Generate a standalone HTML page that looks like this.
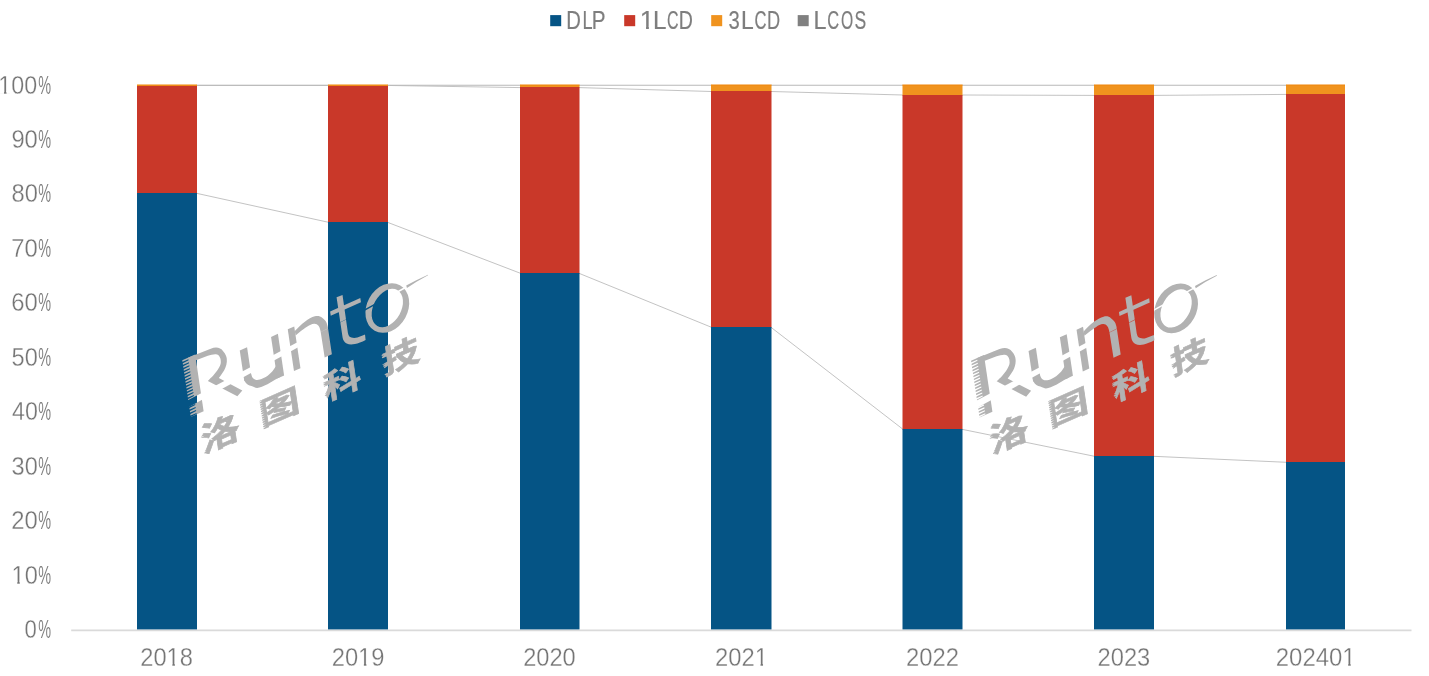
<!DOCTYPE html>
<html><head><meta charset="utf-8"><title>Chart</title>
<style>html,body{margin:0;padding:0;background:#fff}body{width:1429px;height:676px;overflow:hidden;font-family:"Liberation Sans",sans-serif}svg{display:block;will-change:transform}</style>
</head><body>
<svg width="1429" height="676" viewBox="0 0 1429 676" font-family="'Liberation Sans', sans-serif">
<rect width="1429" height="676" fill="#fff"/>
<line x1="71.2" y1="630.35" x2="1411.5" y2="630.35" stroke="#dadada" stroke-width="1.7"/>
<line x1="196.5" y1="193.3" x2="328.5" y2="222.3" stroke="#bcbcbc" stroke-width="0.9"/>
<line x1="387.5" y1="222.3" x2="520.5" y2="273.3" stroke="#bcbcbc" stroke-width="0.9"/>
<line x1="579.0" y1="273.3" x2="711.5" y2="327.3" stroke="#bcbcbc" stroke-width="0.9"/>
<line x1="771.0" y1="327.3" x2="903.0" y2="429.3" stroke="#bcbcbc" stroke-width="0.9"/>
<line x1="962.0" y1="429.3" x2="1094.5" y2="456.3" stroke="#bcbcbc" stroke-width="0.9"/>
<line x1="1153.5" y1="456.3" x2="1286.5" y2="462.3" stroke="#bcbcbc" stroke-width="0.9"/>
<line x1="196.5" y1="85.45" x2="328.5" y2="85.45" stroke="#bcbcbc" stroke-width="0.9"/>
<line x1="387.5" y1="85.45" x2="520.5" y2="87.6" stroke="#bcbcbc" stroke-width="0.9"/>
<line x1="579.0" y1="87.6" x2="711.5" y2="91.5" stroke="#bcbcbc" stroke-width="0.9"/>
<line x1="771.0" y1="91.5" x2="903.0" y2="95.0" stroke="#bcbcbc" stroke-width="0.9"/>
<line x1="962.0" y1="95.0" x2="1094.5" y2="95.4" stroke="#bcbcbc" stroke-width="0.9"/>
<line x1="1153.5" y1="95.4" x2="1286.5" y2="94.4" stroke="#bcbcbc" stroke-width="0.9"/>
<line x1="196.5" y1="85.25" x2="328.5" y2="85.25" stroke="#b9b9b9" stroke-width="1.05"/>
<line x1="387.5" y1="85.25" x2="520.5" y2="85.25" stroke="#b9b9b9" stroke-width="1.05"/>
<line x1="579.0" y1="85.25" x2="711.5" y2="85.25" stroke="#b9b9b9" stroke-width="1.05"/>
<line x1="771.0" y1="85.25" x2="903.0" y2="85.25" stroke="#b9b9b9" stroke-width="1.05"/>
<line x1="962.0" y1="85.25" x2="1094.5" y2="85.25" stroke="#b9b9b9" stroke-width="1.05"/>
<line x1="1153.5" y1="85.25" x2="1286.5" y2="85.25" stroke="#b9b9b9" stroke-width="1.05"/>
<rect x="137" y="84.7" width="60" height="1.80" fill="#F0931E"/>
<rect x="137" y="86.0" width="60" height="107.50" fill="#C93829"/>
<rect x="137" y="193" width="60" height="436.40" fill="#055485"/>
<rect x="137" y="84.7" width="60" height="0.7" fill="#ee8208"/>
<rect x="328" y="84.7" width="60" height="1.80" fill="#F0931E"/>
<rect x="328" y="86.0" width="60" height="136.50" fill="#C93829"/>
<rect x="328" y="222" width="60" height="407.40" fill="#055485"/>
<rect x="328" y="84.7" width="60" height="0.7" fill="#ee8208"/>
<rect x="520" y="84.7" width="59.5" height="2.80" fill="#F0931E"/>
<rect x="520" y="87.0" width="59.5" height="186.50" fill="#C93829"/>
<rect x="520" y="273" width="59.5" height="356.40" fill="#055485"/>
<rect x="520" y="84.7" width="59.5" height="0.7" fill="#ee8208"/>
<rect x="711" y="84.7" width="60.5" height="6.80" fill="#F0931E"/>
<rect x="711" y="91.0" width="60.5" height="236.50" fill="#C93829"/>
<rect x="711" y="327" width="60.5" height="302.40" fill="#055485"/>
<rect x="711" y="84.7" width="60.5" height="0.7" fill="#ee8208"/>
<rect x="902.5" y="84.7" width="60.0" height="10.80" fill="#F0931E"/>
<rect x="902.5" y="95.0" width="60.0" height="334.50" fill="#C93829"/>
<rect x="902.5" y="429" width="60.0" height="200.40" fill="#055485"/>
<rect x="902.5" y="84.7" width="60.0" height="0.7" fill="#ee8208"/>
<rect x="1094" y="84.7" width="60" height="10.80" fill="#F0931E"/>
<rect x="1094" y="95.0" width="60" height="361.50" fill="#C93829"/>
<rect x="1094" y="456" width="60" height="173.40" fill="#055485"/>
<rect x="1094" y="84.7" width="60" height="0.7" fill="#ee8208"/>
<rect x="1286" y="84.7" width="59" height="9.80" fill="#F0931E"/>
<rect x="1286" y="94.0" width="59" height="368.50" fill="#C93829"/>
<rect x="1286" y="462" width="59" height="167.40" fill="#055485"/>
<rect x="1286" y="84.7" width="59" height="0.7" fill="#ee8208"/>
<g transform="translate(24.53,637.80) scale(0.8870,1)"><text font-size="25" fill="#757575" stroke="#fff" stroke-width="0.3" stroke-linejoin="round">0</text></g>
<g transform="translate(38.19,637.80) scale(0.5771,1)"><text font-size="25" fill="#757575" stroke="#fff" stroke-width="0.15" stroke-linejoin="round">%</text></g>
<g transform="translate(11.53,584.02) scale(0.9457,1)"><text font-size="25" fill="#757575" stroke="#fff" stroke-width="0.3" stroke-linejoin="round">10</text><rect x="1.10" y="-2.62" width="4.93" height="3.05" fill="#fff"/><rect x="8.75" y="-2.62" width="4.94" height="3.05" fill="#fff"/></g>
<g transform="translate(38.19,584.02) scale(0.5771,1)"><text font-size="25" fill="#757575" stroke="#fff" stroke-width="0.15" stroke-linejoin="round">%</text></g>
<g transform="translate(11.30,529.48) scale(0.9541,1)"><text font-size="25" fill="#757575" stroke="#fff" stroke-width="0.3" stroke-linejoin="round">20</text></g>
<g transform="translate(38.19,529.48) scale(0.5771,1)"><text font-size="25" fill="#757575" stroke="#fff" stroke-width="0.15" stroke-linejoin="round">%</text></g>
<g transform="translate(11.60,474.94) scale(0.9429,1)"><text font-size="25" fill="#757575" stroke="#fff" stroke-width="0.3" stroke-linejoin="round">30</text></g>
<g transform="translate(38.19,474.94) scale(0.5771,1)"><text font-size="25" fill="#757575" stroke="#fff" stroke-width="0.15" stroke-linejoin="round">%</text></g>
<g transform="translate(11.97,420.41) scale(0.9293,1)"><text font-size="25" fill="#757575" stroke="#fff" stroke-width="0.3" stroke-linejoin="round">40</text></g>
<g transform="translate(38.19,420.41) scale(0.5771,1)"><text font-size="25" fill="#757575" stroke="#fff" stroke-width="0.15" stroke-linejoin="round">%</text></g>
<g transform="translate(11.55,365.88) scale(0.9446,1)"><text font-size="25" fill="#757575" stroke="#fff" stroke-width="0.3" stroke-linejoin="round">50</text></g>
<g transform="translate(38.19,365.88) scale(0.5771,1)"><text font-size="25" fill="#757575" stroke="#fff" stroke-width="0.15" stroke-linejoin="round">%</text></g>
<g transform="translate(11.29,311.34) scale(0.9546,1)"><text font-size="25" fill="#757575" stroke="#fff" stroke-width="0.3" stroke-linejoin="round">60</text></g>
<g transform="translate(38.19,311.34) scale(0.5771,1)"><text font-size="25" fill="#757575" stroke="#fff" stroke-width="0.15" stroke-linejoin="round">%</text></g>
<g transform="translate(11.28,256.81) scale(0.9550,1)"><text font-size="25" fill="#757575" stroke="#fff" stroke-width="0.3" stroke-linejoin="round">70</text></g>
<g transform="translate(38.19,256.81) scale(0.5771,1)"><text font-size="25" fill="#757575" stroke="#fff" stroke-width="0.15" stroke-linejoin="round">%</text></g>
<g transform="translate(11.47,202.27) scale(0.9478,1)"><text font-size="25" fill="#757575" stroke="#fff" stroke-width="0.3" stroke-linejoin="round">80</text></g>
<g transform="translate(38.19,202.27) scale(0.5771,1)"><text font-size="25" fill="#757575" stroke="#fff" stroke-width="0.15" stroke-linejoin="round">%</text></g>
<g transform="translate(11.39,147.73) scale(0.9509,1)"><text font-size="25" fill="#757575" stroke="#fff" stroke-width="0.3" stroke-linejoin="round">90</text></g>
<g transform="translate(38.19,147.73) scale(0.5771,1)"><text font-size="25" fill="#757575" stroke="#fff" stroke-width="0.15" stroke-linejoin="round">%</text></g>
<g transform="translate(-1.64,93.50) scale(0.9314,1)"><text font-size="25" fill="#757575" stroke="#fff" stroke-width="0.3" stroke-linejoin="round">100</text><rect x="1.10" y="-2.62" width="4.93" height="3.05" fill="#fff"/><rect x="8.75" y="-2.62" width="4.94" height="3.05" fill="#fff"/></g>
<g transform="translate(38.19,93.50) scale(0.5771,1)"><text font-size="25" fill="#757575" stroke="#fff" stroke-width="0.15" stroke-linejoin="round">%</text></g>
<g transform="translate(140.26,666.20) scale(0.9480,1)"><text font-size="25" fill="#757575" stroke="#fff" stroke-width="0.3" stroke-linejoin="round">2018</text><rect x="28.91" y="-2.62" width="4.93" height="3.05" fill="#fff"/><rect x="36.56" y="-2.62" width="4.94" height="3.05" fill="#fff"/></g>
<g transform="translate(331.71,666.20) scale(0.9497,1)"><text font-size="25" fill="#757575" stroke="#fff" stroke-width="0.3" stroke-linejoin="round">2019</text><rect x="28.91" y="-2.62" width="4.93" height="3.05" fill="#fff"/><rect x="36.56" y="-2.62" width="4.94" height="3.05" fill="#fff"/></g>
<g transform="translate(523.16,666.20) scale(0.9460,1)"><text font-size="25" fill="#757575" stroke="#fff" stroke-width="0.3" stroke-linejoin="round">2020</text></g>
<g transform="translate(715.00,666.20) scale(0.9520,1)"><text font-size="25" fill="#757575" stroke="#fff" stroke-width="0.3" stroke-linejoin="round">2021</text><rect x="42.81" y="-2.62" width="4.93" height="3.05" fill="#fff"/><rect x="50.46" y="-2.62" width="4.94" height="3.05" fill="#fff"/></g>
<g transform="translate(906.05,666.20) scale(0.9510,1)"><text font-size="25" fill="#757575" stroke="#fff" stroke-width="0.3" stroke-linejoin="round">2022</text></g>
<g transform="translate(1097.51,666.20) scale(0.9482,1)"><text font-size="25" fill="#757575" stroke="#fff" stroke-width="0.3" stroke-linejoin="round">2023</text></g>
<g transform="translate(1275.80,666.20) scale(0.9576,1)"><text font-size="25" fill="#757575" stroke="#fff" stroke-width="0.3" stroke-linejoin="round">202401</text><rect x="70.62" y="-2.62" width="4.93" height="3.05" fill="#fff"/><rect x="78.27" y="-2.62" width="4.94" height="3.05" fill="#fff"/></g>
<rect x="550.2" y="15.1" width="11.0" height="11.1" fill="#055485"/>
<rect x="624.2" y="15.1" width="11.0" height="11.1" fill="#C93829"/>
<rect x="711.2" y="15.1" width="11.0" height="11.1" fill="#F0931E"/>
<rect x="797.7" y="15.1" width="11.0" height="11.1" fill="#808080"/>
<g transform="translate(566.34,28.90) scale(0.8104,1)"><text font-size="25" fill="#7e7e7e" stroke="#7e7e7e" stroke-width="0.2" stroke-linejoin="round">D</text></g>
<g transform="translate(582.51,28.90) scale(0.7258,1)"><text font-size="25" fill="#7e7e7e" stroke="#7e7e7e" stroke-width="0.2" stroke-linejoin="round">L</text></g>
<g transform="translate(591.80,28.90) scale(0.8267,1)"><text font-size="25" fill="#7e7e7e" stroke="#7e7e7e" stroke-width="0.2" stroke-linejoin="round">P</text></g>
<g transform="translate(639.81,28.90) scale(1.0343,1)"><text font-size="25" fill="#7e7e7e" stroke="#7e7e7e" stroke-width="0.2" stroke-linejoin="round">1</text><rect x="1.10" y="-2.62" width="4.93" height="3.05" fill="#fff"/><rect x="8.75" y="-2.62" width="4.94" height="3.05" fill="#fff"/></g>
<g transform="translate(652.91,28.90) scale(0.9707,1)"><text font-size="25" fill="#7e7e7e" stroke="#7e7e7e" stroke-width="0.2" stroke-linejoin="round">L</text></g>
<g transform="translate(666.99,28.90) scale(0.6379,1)"><text font-size="25" fill="#7e7e7e" stroke="#7e7e7e" stroke-width="0.2" stroke-linejoin="round">C</text></g>
<g transform="translate(678.79,28.90) scale(0.7834,1)"><text font-size="25" fill="#7e7e7e" stroke="#7e7e7e" stroke-width="0.2" stroke-linejoin="round">D</text></g>
<g transform="translate(728.43,28.90) scale(0.8099,1)"><text font-size="25" fill="#7e7e7e" stroke="#7e7e7e" stroke-width="0.2" stroke-linejoin="round">3</text></g>
<g transform="translate(740.92,28.90) scale(0.9163,1)"><text font-size="25" fill="#7e7e7e" stroke="#7e7e7e" stroke-width="0.2" stroke-linejoin="round">L</text></g>
<g transform="translate(754.56,28.90) scale(0.6632,1)"><text font-size="25" fill="#7e7e7e" stroke="#7e7e7e" stroke-width="0.2" stroke-linejoin="round">C</text></g>
<g transform="translate(767.10,28.90) scale(0.7294,1)"><text font-size="25" fill="#7e7e7e" stroke="#7e7e7e" stroke-width="0.2" stroke-linejoin="round">D</text></g>
<g transform="translate(813.38,28.90) scale(0.9344,1)"><text font-size="25" fill="#7e7e7e" stroke="#7e7e7e" stroke-width="0.2" stroke-linejoin="round">L</text></g>
<g transform="translate(827.37,28.90) scale(0.6569,1)"><text font-size="25" fill="#7e7e7e" stroke="#7e7e7e" stroke-width="0.2" stroke-linejoin="round">C</text></g>
<g transform="translate(840.96,28.90) scale(0.6270,1)"><text font-size="25" fill="#7e7e7e" stroke="#7e7e7e" stroke-width="0.2" stroke-linejoin="round">O</text></g>
<g transform="translate(854.40,28.90) scale(0.7018,1)"><text font-size="25" fill="#7e7e7e" stroke="#7e7e7e" stroke-width="0.2" stroke-linejoin="round">S</text></g>
<defs>
<mask id="wmm" maskUnits="userSpaceOnUse" x="-30" y="-80" width="320" height="150">
<rect x="-30" y="-80" width="320" height="150" fill="#fff"/>
<polygon fill="#000" points="-14,-14.75 113,-23.4 126,-22.75 113,-18.7 -14,-8"/>
<polygon fill="#000" points="126,-22.85 160,-24.45 182,-25.75 187,-26.4 230,-30.15 234,-30.5 234,-29 230,-28.65 187,-25 182,-25.05 160,-24.15 126,-22.65"/>
<polygon fill="#000" points="-12,-52.30 -3,-52.10 -3,-51.10 -12,-50.55"/>
<polygon fill="#000" points="-12,-49.40 -3,-49.20 -3,-48.20 -12,-47.65"/>
<polygon fill="#000" points="-12,-46.50 -3,-46.30 -3,-45.30 -12,-44.75"/>
<polygon fill="#000" points="-12,-43.60 -3,-43.40 -3,-42.40 -12,-41.85"/>
<polygon fill="#000" points="-12,-40.70 -3,-40.50 -3,-39.50 -12,-38.95"/>
<polygon fill="#000" points="-12,-37.80 -3,-37.60 -3,-36.60 -12,-36.05"/>
<polygon fill="#000" points="-12,-34.90 -3,-34.70 -3,-33.70 -12,-33.15"/>
<polygon fill="#000" points="-12,-32.00 -3,-31.80 -3,-30.80 -12,-30.25"/>
<polygon fill="#000" points="-12,-29.10 -3,-28.90 -3,-27.90 -12,-27.35"/>
<polygon fill="#000" points="-12,-26.20 -3,-26.00 -3,-25.00 -12,-24.45"/>
<polygon fill="#000" points="-12,-23.30 -3,-23.10 -3,-22.10 -12,-21.55"/>
<polygon fill="#000" points="-12,-20.40 -3,-20.20 -3,-19.20 -12,-18.65"/>
<polygon fill="#000" points="-12,-17.50 -3,-17.30 -3,-16.30 -12,-15.75"/>
<polygon fill="#000" points="-12,-14.60 -3,-14.40 -3,-13.40 -12,-12.85"/>
<polygon fill="#000" points="-12,-11.70 -3,-11.50 -3,-10.50 -12,-9.95"/>
<polygon fill="#000" points="-12,-8.80 -3,-8.60 -3,-7.60 -12,-7.05"/>
<polygon fill="#000" points="-12,-5.90 -3,-5.70 -3,-4.70 -12,-4.15"/>
<polygon fill="#000" points="-12,-3.00 -3,-2.80 -3,-1.80 -12,-1.25"/>
<polygon fill="#000" points="-12,-0.10 -3,0.10 -3,1.10 -12,1.65"/>
<polygon fill="#000" points="-3,11.00 1.8,11.55 -3,12.25"/>
<polygon fill="#000" points="-3,13.10 1.8,13.65 -3,14.35"/>
<polygon fill="#000" points="-3,15.20 1.8,15.75 -3,16.45"/>
<polygon fill="#000" points="-3,17.30 1.8,17.85 -3,18.55"/>
<polygon fill="#000" points="-3,19.40 1.8,19.95 -3,20.65"/>
<polygon fill="#000" points="-3,21.50 1.8,22.05 -3,22.75"/>
<polygon fill="#000" points="-3,23.60 1.8,24.15 -3,24.85"/>
<polygon fill="#000" points="-3,25.70 1.8,26.25 -3,26.95"/>
<polygon fill="#000" points="-3,27.80 1.8,28.35 -3,29.05"/>
<polygon fill="#000" points="-3,29.90 1.8,30.45 -3,31.15"/>
<polygon fill="#000" points="-3,32.00 1.8,32.55 -3,33.25"/>
<polygon fill="#000" points="-3,34.10 1.8,34.65 -3,35.35"/>
<polygon fill="#000" points="-3,36.20 1.8,36.75 -3,37.45"/>
<polygon fill="#000" points="-3,38.30 1.8,38.85 -3,39.55"/>
<polygon fill="#000" points="-3,40.40 1.8,40.95 -3,41.65"/>
<polygon fill="#000" points="-3,42.50 1.8,43.05 -3,43.75"/>
<polygon fill="#000" points="-3,44.60 1.8,45.15 -3,45.85"/>
<polygon fill="#000" points="62.5,13.00 66.6,13.55 62.5,14.25"/>
<polygon fill="#000" points="62.5,15.10 66.6,15.65 62.5,16.35"/>
<polygon fill="#000" points="62.5,17.20 66.6,17.75 62.5,18.45"/>
<polygon fill="#000" points="62.5,19.30 66.6,19.85 62.5,20.55"/>
<polygon fill="#000" points="62.5,21.40 66.6,21.95 62.5,22.65"/>
<polygon fill="#000" points="62.5,23.50 66.6,24.05 62.5,24.75"/>
<polygon fill="#000" points="62.5,25.60 66.6,26.15 62.5,26.85"/>
<polygon fill="#000" points="62.5,27.70 66.6,28.25 62.5,28.95"/>
<polygon fill="#000" points="62.5,29.80 66.6,30.35 62.5,31.05"/>
<polygon fill="#000" points="62.5,31.90 66.6,32.45 62.5,33.15"/>
<polygon fill="#000" points="62.5,34.00 66.6,34.55 62.5,35.25"/>
<polygon fill="#000" points="62.5,36.10 66.6,36.65 62.5,37.35"/>
<polygon fill="#000" points="62.5,38.20 66.6,38.75 62.5,39.45"/>
<polygon fill="#000" points="62.5,40.30 66.6,40.85 62.5,41.55"/>
<polygon fill="#000" points="62.5,42.40 66.6,42.95 62.5,43.65"/>
<polygon fill="#000" points="130.5,14.00 134.2,14.55 130.5,15.25"/>
<polygon fill="#000" points="130.5,16.10 134.2,16.65 130.5,17.35"/>
<polygon fill="#000" points="130.5,18.20 134.2,18.75 130.5,19.45"/>
<polygon fill="#000" points="130.5,20.30 134.2,20.85 130.5,21.55"/>
<polygon fill="#000" points="130.5,22.40 134.2,22.95 130.5,23.65"/>
<polygon fill="#000" points="130.5,24.50 134.2,25.05 130.5,25.75"/>
<polygon fill="#000" points="130.5,26.60 134.2,27.15 130.5,27.85"/>
<polygon fill="#000" points="130.5,28.70 134.2,29.25 130.5,29.95"/>
<polygon fill="#000" points="130.5,30.80 134.2,31.35 130.5,32.05"/>
<polygon fill="#000" points="130.5,32.90 134.2,33.45 130.5,34.15"/>
<polygon fill="#000" points="130.5,35.00 134.2,35.55 130.5,36.25"/>
<polygon fill="#000" points="130.5,37.10 134.2,37.65 130.5,38.35"/>
<polygon fill="#000" points="130.5,39.20 134.2,39.75 130.5,40.45"/>
<polygon fill="#000" points="130.5,41.30 134.2,41.85 130.5,42.55"/>
<polygon fill="#000" points="130.5,43.40 134.2,43.95 130.5,44.65"/>
<polygon fill="#000" points="130.5,45.50 134.2,46.05 130.5,46.75"/>
<polygon fill="#000" points="194.5,15.00 198.3,15.55 194.5,16.25"/>
<polygon fill="#000" points="194.5,17.10 198.3,17.65 194.5,18.35"/>
<polygon fill="#000" points="194.5,19.20 198.3,19.75 194.5,20.45"/>
<polygon fill="#000" points="194.5,21.30 198.3,21.85 194.5,22.55"/>
<polygon fill="#000" points="194.5,23.40 198.3,23.95 194.5,24.65"/>
<polygon fill="#000" points="194.5,25.50 198.3,26.05 194.5,26.75"/>
<polygon fill="#000" points="194.5,27.60 198.3,28.15 194.5,28.85"/>
<polygon fill="#000" points="194.5,29.70 198.3,30.25 194.5,30.95"/>
<polygon fill="#000" points="194.5,31.80 198.3,32.35 194.5,33.05"/>
<polygon fill="#000" points="194.5,33.90 198.3,34.45 194.5,35.15"/>
<polygon fill="#000" points="194.5,36.00 198.3,36.55 194.5,37.25"/>
<polygon fill="#000" points="194.5,38.10 198.3,38.65 194.5,39.35"/>
<polygon fill="#000" points="194.5,40.20 198.3,40.75 194.5,41.45"/>
<polygon fill="#000" points="194.5,42.30 198.3,42.85 194.5,43.55"/>
<polygon fill="#000" points="194.5,44.40 198.3,44.95 194.5,45.65"/>
<polygon fill="#000" points="194.5,46.50 198.3,47.05 194.5,47.75"/>
</mask>
<g id="wm" fill="#b2b2b2" stroke="none">
<g transform="translate(988,412) rotate(-24) skewX(-15.5)"><g mask="url(#wmm)">
<rect x="-9.5" y="-53.8" width="14.1" height="55.3"/>
<path d="M-3.4,-53.8 L21.5,-52.8 C27.5,-52.4 31.5,-50 34,-45.2 C35.8,-42 36.6,-39.5 36.4,-37 C36.2,-33 34.5,-30 32,-27.5 C30,-25.8 28.5,-24.8 25.3,-22.6 L47.5,-1.8 L41.5,1.5 L13.6,-24.5 C16,-25.6 18,-26.3 19.7,-27.1 C22.5,-28.5 24.5,-29.8 26,-31.1 C28,-32.8 29.4,-34.5 29.7,-36.1 C30.1,-38 30.1,-39.5 29.6,-41.1 C28.8,-43.6 27.5,-45.2 25.2,-45.8 C23,-46.6 20,-47.2 17.4,-47.4 L4.6,-48.2 Z"/>
<rect x="51" y="-39.3" width="8" height="30"/>
<path d="M51,-14 C51,-9 52,-5.5 57.6,-2 C60,0 61.5,1.3 63.1,2 C66,2.9 70,3 74.3,2.8 C78,2.5 82,1.8 85.2,1.5 L88,1.5 L88,-12 L85.2,-10 C83.5,-8.5 82,-7.3 79.9,-6.5 C77,-5.2 74,-4.4 70.6,-4.4 C67.5,-4.4 64.8,-4.8 62.8,-6.1 C60.5,-7.8 59,-10 59,-14 Z"/>
<rect x="85.2" y="-39" width="7.5" height="40.5"/>
<rect x="103.5" y="-39.2" width="7.1" height="40.7"/>
<path d="M110.5,-34.7 C114,-36.5 118,-38.3 122.6,-39.3 C126,-40.2 130,-40.6 133.3,-40.1 C136.5,-39.5 139,-38 140.6,-35.7 C142.5,-33.5 144,-31 144.4,-29.2 C144.9,-27 145,-25 145,-22.8 L145,1.5 L137.1,1.5 L136.9,-22.8 C136.9,-25.5 136.6,-27.8 135.6,-29.8 C134.7,-31.8 133.3,-33 131.4,-33.6 C129,-34.3 126.5,-34.2 124.1,-33.7 C121,-33.2 118,-32.5 115.7,-31.9 L110.6,-30.4 Z"/>
<path d="M158.5,-48.5 L165,-48.3 L164.7,-11.5 C164.8,-8.5 165.7,-6.8 167.6,-5.7 C169.3,-4.4 171.3,-3.6 173.7,-3.3 C176.5,-2.9 179.5,-2.9 182,-2.9 L181.8,2.2 C177.5,2.4 173.5,2.3 170.2,1.7 C166.5,1 163.8,-0.3 161.8,-2.2 C159.6,-4.3 158.6,-6.5 158.5,-9.3 Z"/>
<polygon points="149.7,-38.1 182.8,-38.3 182.8,-34.2 149.7,-34.1"/>
<g transform="skewX(15.5) rotate(24) translate(-988,-412)">
<path transform="translate(1176.1,308.4) rotate(-61)" fill-rule="evenodd" d="M-26.05,0 A26.05,20.45 0 1 0 26.05,0 A26.05,20.45 0 1 0 -26.05,0 Z M-20.6,0 A20.6,13.8 0 1 1 20.6,0 A20.6,13.8 0 1 1 -20.6,0 Z"/>
</g>
<text transform="translate(-3.13,40.16) scale(1.3172,1)" font-size="31.97" font-weight="bold" font-family="'Liberation Sans', 'Noto Sans CJK SC', sans-serif" fill="#b2b2b2" stroke="#b2b2b2" stroke-width="0.6">洛</text>
<text transform="translate(60.63,39.40) scale(1.4600,1)" font-size="30.24" font-weight="bold" font-family="'Liberation Sans', 'Noto Sans CJK SC', sans-serif" fill="#b2b2b2" stroke="#b2b2b2" stroke-width="0.6">图</text>
<text transform="translate(130.89,42.04) scale(1.3016,1)" font-size="31.13" font-weight="bold" font-family="'Liberation Sans', 'Noto Sans CJK SC', sans-serif" fill="#b2b2b2" stroke="#b2b2b2" stroke-width="0.6">科</text>
<text transform="translate(194.60,42.27) scale(1.3431,1)" font-size="30.49" font-weight="bold" font-family="'Liberation Sans', 'Noto Sans CJK SC', sans-serif" fill="#b2b2b2" stroke="#b2b2b2" stroke-width="0.6">技</text>
</g>
<polygon points="231.8,-31.0 243,-31.75 255.8,-32.0 255.8,-31.5 243,-30.3 232.2,-28.5"/>
</g>
</g>
</defs>
<use href="#wm" transform="translate(-788.8,-0.4)"/>
<use href="#wm"/>
</svg>
</body></html>
